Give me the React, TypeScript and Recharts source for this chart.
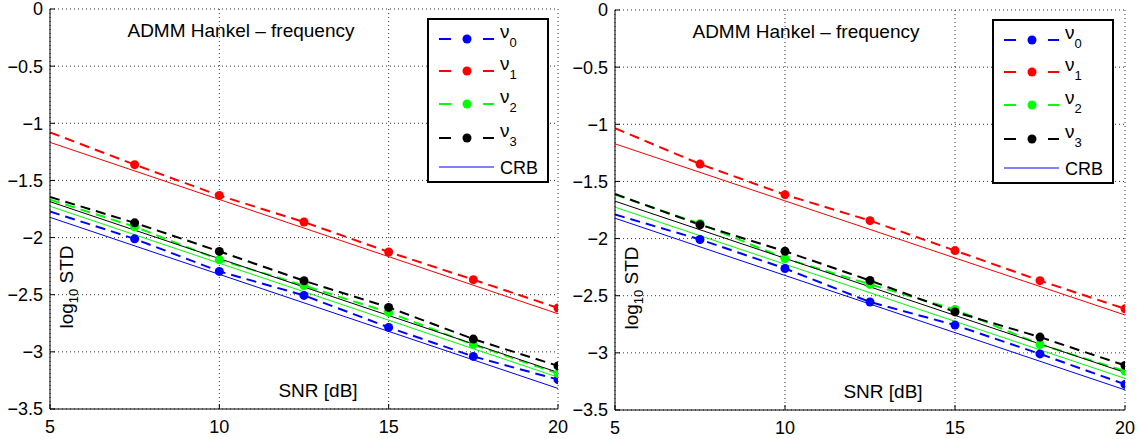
import React from 'react';
import {
  LineChart,
  Line,
  XAxis,
  YAxis,
  CartesianGrid,
  Legend,
  Customized
} from 'recharts';

const FONT = '"Liberation Sans", Arial, Helvetica, sans-serif';

const snr = [5, 7.5, 10, 12.5, 15, 17.5, 20];
const xTicks = [5, 10, 15, 20];
const yTicks = [0, -0.5, -1, -1.5, -2, -2.5, -3, -3.5];

const seriesColors = ['#0000ff', '#ff0000', '#00ff00', '#000000'];
const seriesSubs = ['0', '1', '2', '3'];
const titleText = 'ADMM Hankel \u2013 frequency';

// left panel, log10 STD per SNR
const nu0Left = [-1.772, -2.011, -2.296, -2.506, -2.786, -3.04, -3.243];
const nu1Left = [-1.079, -1.362, -1.632, -1.864, -2.126, -2.368, -2.616];
const nu2Left = [-1.668, -1.905, -2.194, -2.42, -2.655, -2.937, -3.19];
const nu3Left = [-1.645, -1.871, -2.121, -2.378, -2.611, -2.888, -3.123];
// CRB at 5 dB and 20 dB
const crb0Left = [-1.823, -3.32];
const crb1Left = [-1.167, -2.667];
const crb2Left = [-1.726, -3.222];
const crb3Left = [-1.686, -3.18];

// right panel
const nu0Right = [-1.79, -2.008, -2.262, -2.555, -2.757, -3.009, -3.276];
const nu1Right = [-1.034, -1.348, -1.616, -1.843, -2.105, -2.368, -2.615];
const nu2Right = [-1.616, -1.87, -2.174, -2.401, -2.62, -2.926, -3.16];
const nu3Right = [-1.61, -1.879, -2.111, -2.367, -2.642, -2.862, -3.11];
const crb0Right = [-1.822, -3.324];
const crb1Right = [-1.171, -2.669];
const crb2Right = [-1.725, -3.224];
const crb3Right = [-1.673, -3.172];

const buildRows = (nu: number[][], crb: number[][]) =>
  snr.map((x, i) => {
    const row: any = { snr: x };
    nu.forEach((s, k) => (row['nu' + k] = s[i]));
    crb.forEach((c, k) => {
      row['crb' + k] = i === 0 ? c[0] : i === snr.length - 1 ? c[1] : null;
    });
    return row;
  });

const fmtTick = (v: number) => String(v).replace('-', '\u2212');

const makeDot = (color: string) => (props: any) => {
  const { cx, cy, index } = props;
  if (index === 0 || cx == null || cy == null) return <g key={`d-${index}`} />;
  return <circle key={`d-${index}`} cx={cx} cy={cy} r={4.5} fill={color} stroke="none" />;
};

const LegendBox = () => {
  const rowsY = [21, 53, 86, 120, 149];
  return (
    <div style={{ width: 122, height: 165, border: '2px solid #000', boxSizing: 'border-box', background: '#fff' }}>
      <svg width={118} height={161} style={{ display: 'block' }} fontFamily={FONT}>
        {seriesColors.map((c, k) => (
          <g key={k}>
            <line x1={10} x2={22} y1={rowsY[k] - 2} y2={rowsY[k] - 2} stroke={c} strokeWidth={2} />
            <circle cx={38} cy={rowsY[k] - 2} r={4.5} fill={c} />
            <line x1={54} x2={65} y1={rowsY[k] - 2} y2={rowsY[k] - 2} stroke={c} strokeWidth={2} />
            <text x={71} y={rowsY[k] - 3} fontSize={19} fill="#000">
              {'\u03bd'}
              <tspan fontSize={13} dy={9}>{seriesSubs[k]}</tspan>
            </text>
          </g>
        ))}
        <line x1={10} x2={65} y1={rowsY[4] - 2} y2={rowsY[4] - 2} stroke="#0000ff" strokeWidth={1} />
        <text x={71} y={rowsY[4] + 5} fontSize={18} fill="#000">CRB</text>
      </svg>
    </div>
  );
};

const Overlay = ({ left, top }: { left: number; top: number }) => (
  <g fontFamily={FONT} fill="#000">
    <text x={left + 191} y={top + 28} textAnchor="middle" fontSize={19}>{titleText}</text>
    <text x={left + 268} y={top + 388} textAnchor="middle" fontSize={19}>SNR [dB]</text>
    <text transform={`translate(${left + 23},${top + 278}) rotate(-90)`} textAnchor="middle" fontSize={19}>
      log<tspan fontSize={13} dy={5}>10</tspan><tspan dy={-5}> STD</tspan>
    </text>
  </g>
);

type PanelProps = {
  nu: number[][];
  crb: number[][];
  width: number;
  yAxisWidth: number;
  top: number;
  right: number;
  xAxisHeight: number;
};

const Panel = ({ nu, crb, width, yAxisWidth, top, right, xAxisHeight }: PanelProps) => {
  const data = buildRows(nu, crb);
  return (
    <LineChart width={width} height={439} data={data} margin={{ top, right, bottom: 0, left: 0 }}>
      <CartesianGrid stroke="#333" strokeDasharray="1 3" />
      <XAxis
        dataKey="snr"
        type="number"
        domain={[5, 20]}
        ticks={xTicks}
        interval={0}
        allowDataOverflow
        height={xAxisHeight}
        axisLine={{ stroke: '#000' }}
        tickLine={{ stroke: '#000' }}
        tickSize={-5}
        tickMargin={16}
        tick={{ fill: '#000', fontSize: 18, fontFamily: FONT }}
      />
      <YAxis
        type="number"
        domain={[-3.5, 0]}
        ticks={yTicks}
        interval={0}
        allowDataOverflow
        width={yAxisWidth}
        axisLine={{ stroke: '#000' }}
        tickLine={{ stroke: '#000' }}
        tickSize={-5}
        tickMargin={12}
        tickFormatter={fmtTick}
        tick={{ fill: '#000', fontSize: 18, fontFamily: FONT }}
      />
      {nu.map((_, k) => (
        <Line
          key={'nu' + k}
          type="linear"
          dataKey={'nu' + k}
          stroke={seriesColors[k]}
          strokeWidth={2}
          strokeDasharray="10 6"
          dot={makeDot(seriesColors[k])}
          activeDot={false}
          isAnimationActive={false}
        />
      ))}
      {crb.map((_, k) => (
        <Line
          key={'crb' + k}
          type="linear"
          dataKey={'crb' + k}
          stroke={seriesColors[k]}
          strokeWidth={1}
          dot={false}
          activeDot={false}
          connectNulls
          legendType="none"
          isAnimationActive={false}
        />
      ))}
      <Legend
        layout="horizontal"
        verticalAlign="middle"
        align="center"
        content={() => <LegendBox />}
        wrapperStyle={{ left: yAxisWidth + 377, top: top + 9, width: 122, height: 165 }}
      />
      <Customized component={<Overlay left={yAxisWidth} top={top} />} />
    </LineChart>
  );
};

export default function App() {
  return (
    <div style={{ position: 'absolute', left: 0, top: 0, width: 1146, height: 439, background: '#fff' }}>
      <div style={{ position: 'absolute', left: 0, top: 0 }}>
        <Panel
          nu={[nu0Left, nu1Left, nu2Left, nu3Left]}
          crb={[crb0Left, crb1Left, crb2Left, crb3Left]}
          width={580}
          yAxisWidth={50}
          top={9}
          right={22}
          xAxisHeight={30}
        />
      </div>
      <div style={{ position: 'absolute', left: 566, top: 0 }}>
        <Panel
          nu={[nu0Right, nu1Right, nu2Right, nu3Right]}
          crb={[crb0Right, crb1Right, crb2Right, crb3Right]}
          width={580}
          yAxisWidth={49}
          top={10}
          right={21}
          xAxisHeight={29}
        />
      </div>
    </div>
  );
}
